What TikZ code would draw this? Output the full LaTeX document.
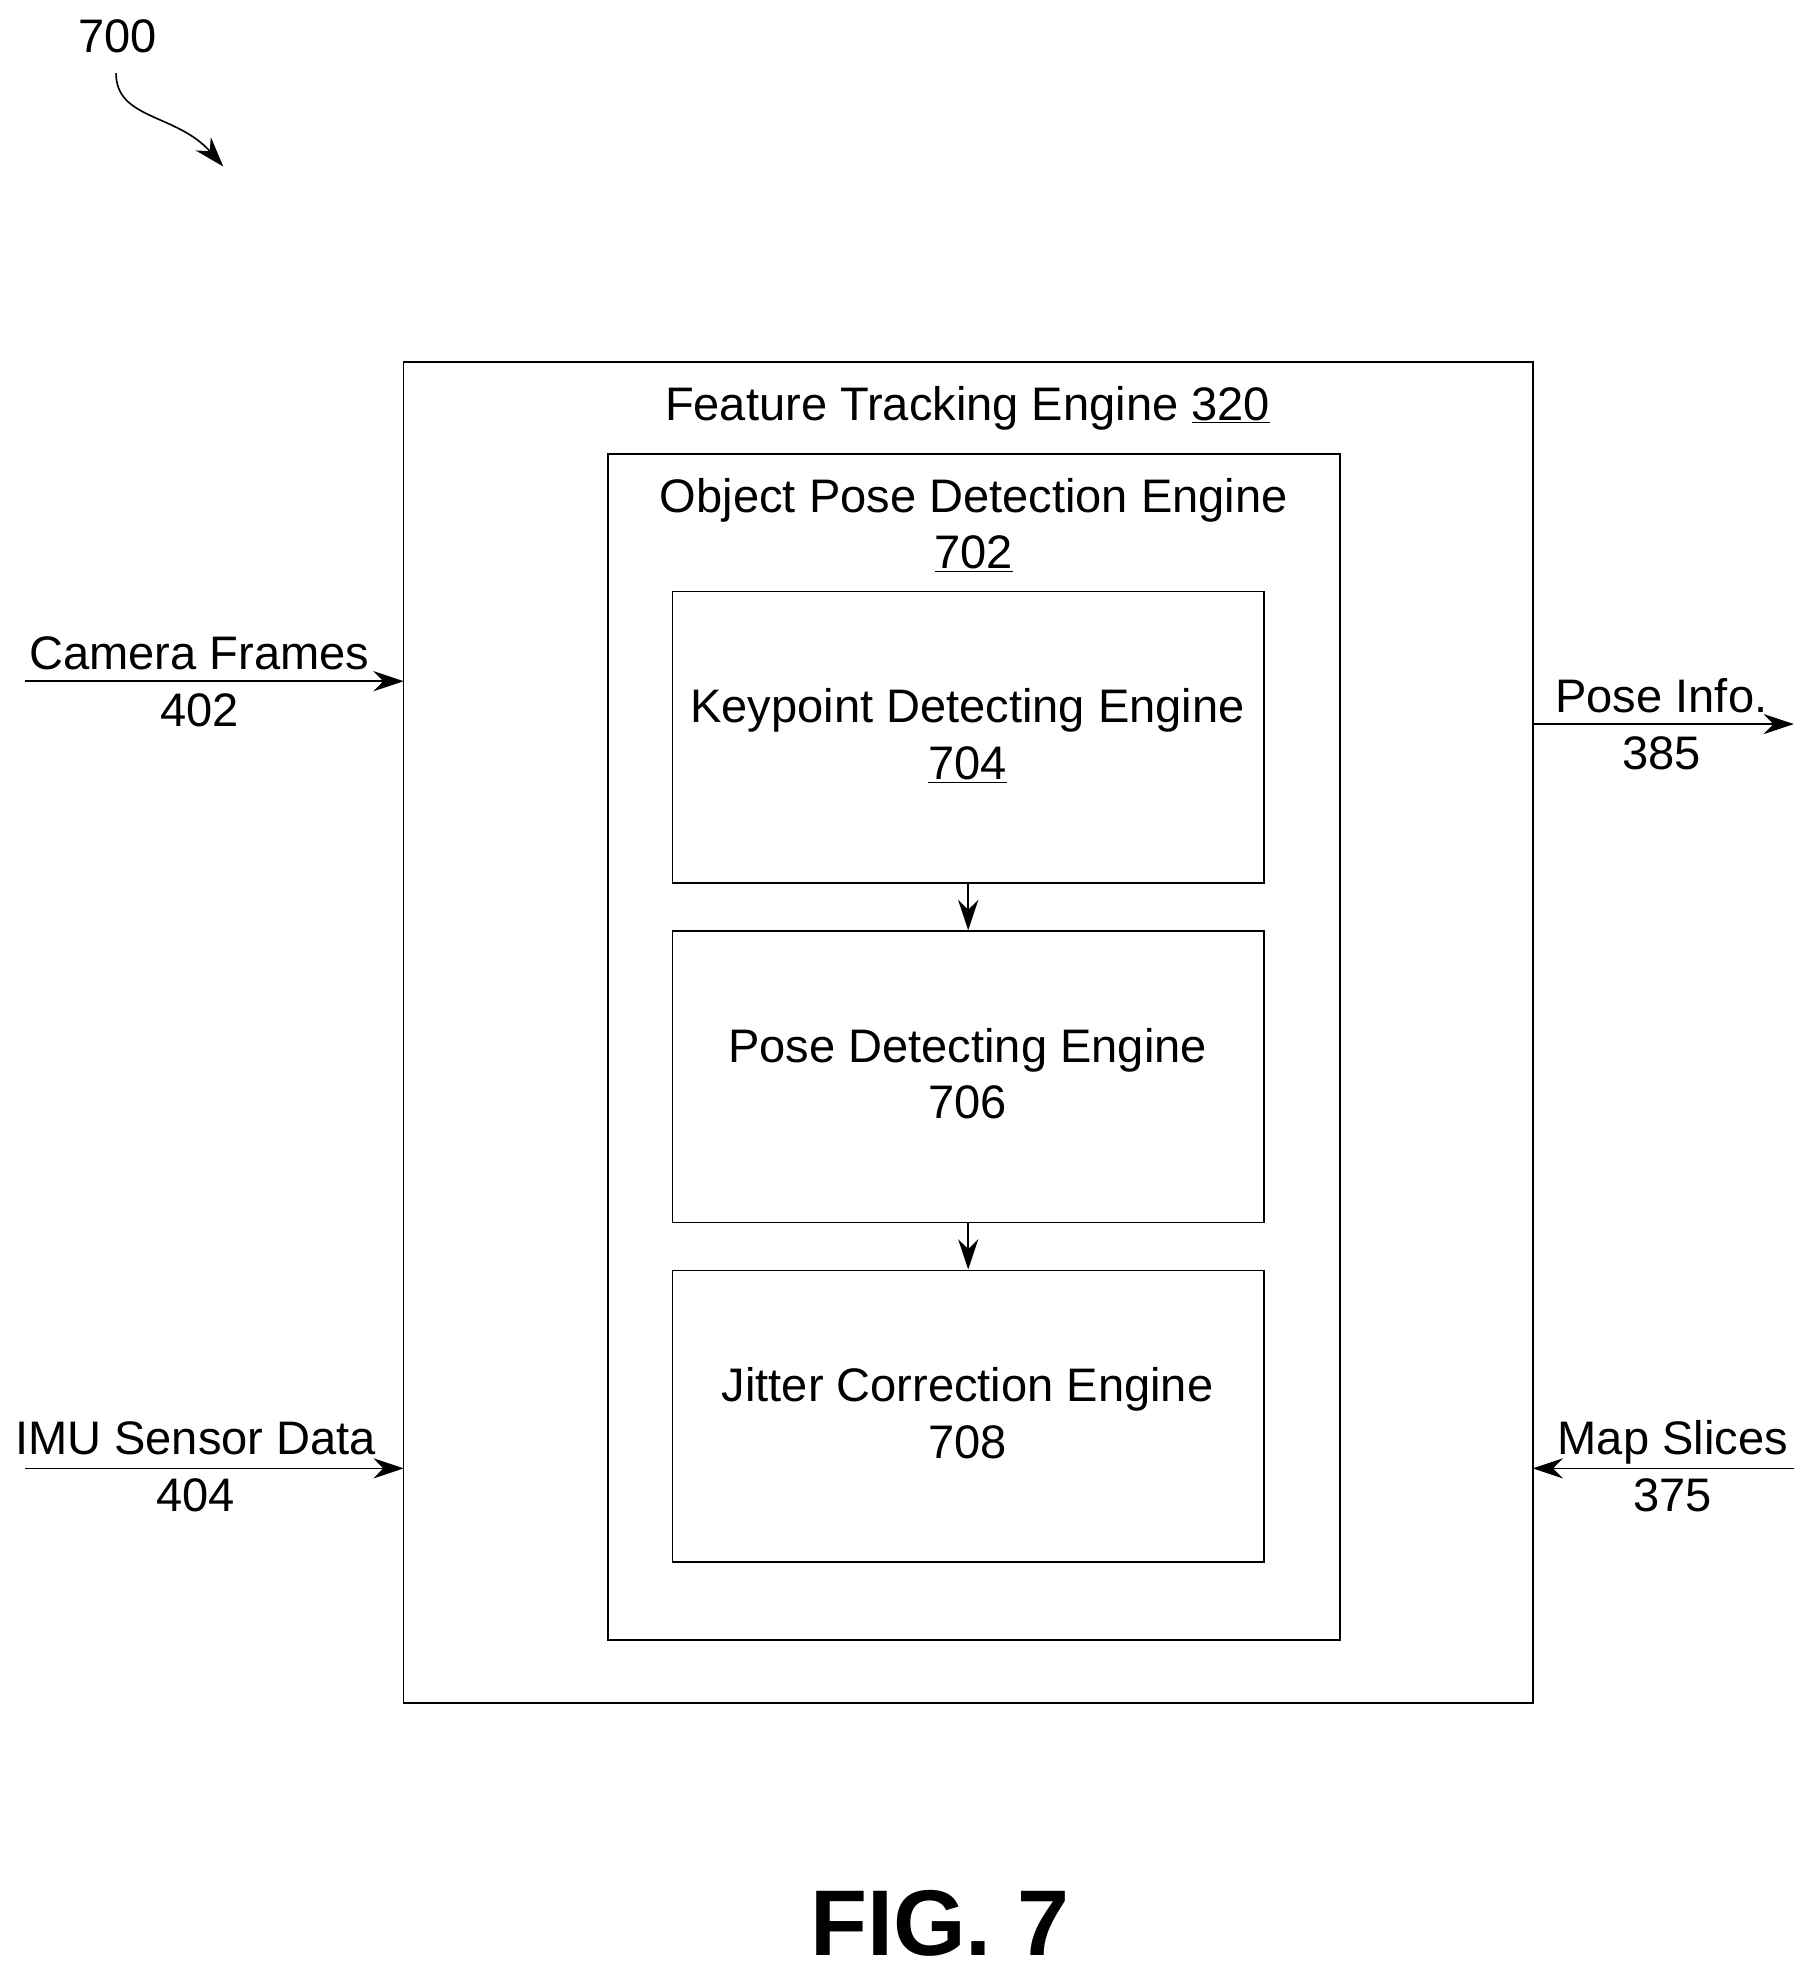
\documentclass[tikz,border=0pt]{standalone}
\usepackage{fontspec}
\setmainfont{Liberation Sans}
\usetikzlibrary{arrows.meta}
\begin{document}
\begin{tikzpicture}[x=1pt,y=-1pt,
  box/.style={draw,line width=1.3pt},
  lbl/.style={font=\fontsize{37.3}{40}\selectfont,inner sep=0pt,anchor=base},
  arr/.style={-{Stealth[length=24pt,width=16pt]},line width=1.3pt}]
\useasboundingbox (0,0) rectangle (1440,1568);
\node[lbl] (n700) at (93,42) {700};
\coordinate (a0) at (92,58);
\coordinate (a1) at (177,132);
\draw[arr] (a0) .. controls (92,95) and (140,90) .. (a1);
\draw[box] (320,287) rectangle (1215,1350);
\node[lbl] (fte) at (767,333) {Feature Tracking Engine \underline{320}};
\draw[box] (482,360) rectangle (1062,1300);
\node[lbl] (opd) at (772,406) {Object Pose Detection Engine};
\node[lbl] (opdn) at (772,451) {\underline{702}};
\node[box,minimum width=469pt,minimum height=231pt,inner sep=0pt] (k) at (767.5,584.5) {};
\node[box,minimum width=469pt,minimum height=231pt,inner sep=0pt] (p) at (767.5,853.5) {};
\node[box,minimum width=469pt,minimum height=231pt,inner sep=0pt] (j) at (767.5,1122.5) {};
\node[lbl] (kt) at (767,573) {Keypoint Detecting Engine};
\node[lbl] (kn) at (767,618) {\underline{704}};
\node[lbl] (pt) at (767,842) {Pose Detecting Engine};
\node[lbl] (pn) at (767,887) {706};
\node[lbl] (jt) at (767,1111) {Jitter Correction Engine};
\node[lbl] (jn) at (767,1156) {708};
\draw[arr] (k.south) -- (p.north);
\draw[arr] (p.south) -- (j.north);
\coordinate (c0) at (20,540); \coordinate (c1) at (320,540);
\draw[arr] (c0) -- (c1);
\node[lbl] (cf) at (158,531) {Camera Frames};
\node[lbl] (cfn) at (158,576) {402};
\coordinate (i0) at (20,1164); \coordinate (i1) at (320,1164);
\draw[arr] (i0) -- (i1);
\node[lbl] (imu) at (155,1153) {IMU Sensor Data};
\node[lbl] (imun) at (155,1198) {404};
\coordinate (p0) at (1215,574); \coordinate (p1) at (1422,574);
\draw[arr] (p0) -- (p1);
\node[lbl] (pi) at (1317,565) {Pose Info.};
\node[lbl] (pin) at (1317,610) {385};
\coordinate (m0) at (1422,1164); \coordinate (m1) at (1215,1164);
\draw[arr] (m0) -- (m1);
\node[lbl] (ms) at (1326,1153) {Map Slices};
\node[lbl] (msn) at (1326,1198) {375};
\node[lbl,font=\bfseries\fontsize{74}{80}\selectfont] (fig) at (745,1550) {FIG. 7};
\end{tikzpicture}
\end{document}
